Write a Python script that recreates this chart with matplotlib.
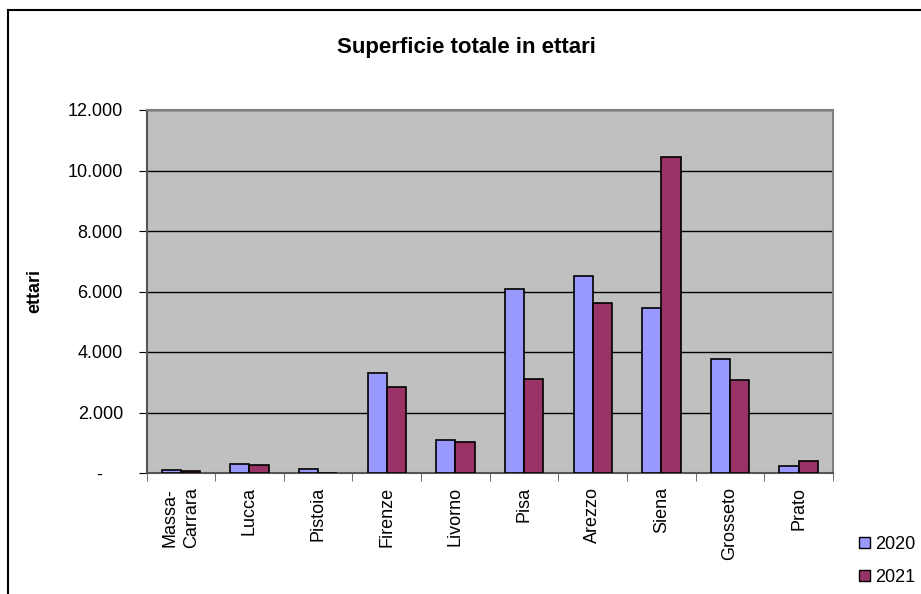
import numpy as np
import matplotlib
matplotlib.use('Agg')
import matplotlib.pyplot as plt
from matplotlib.ticker import FuncFormatter
from matplotlib.patches import Patch
from matplotlib.lines import Line2D

province = ['Massa-\nCarrara', 'Lucca', 'Pistoia', 'Firenze', 'Livorno',
            'Pisa', 'Arezzo', 'Siena', 'Grosseto', 'Prato']
ha_2020 = [110, 310, 145, 3300, 1100, 6090, 6510, 5455, 3760, 230]
ha_2021 = [55, 265, 0, 2850, 1015, 3120, 5610, 10450, 3065, 400]
series_names = ['2020', '2021']
colors = ['#9999FF', '#993366']

plt.rcParams['font.family'] = ['Liberation Sans', 'DejaVu Sans']

W, H = 921, 594
fig = plt.figure(figsize=(W / 100, H / 100), dpi=100)

# chart frame (only left and top visible)
fig.add_artist(Line2D([8 / W, 8 / W], [0, 1 - 10 / H], color='black', lw=1.5, transform=fig.transFigure))
fig.add_artist(Line2D([8 / W, 1], [1 - 10 / H, 1 - 10 / H], color='black', lw=1.5, transform=fig.transFigure))

left, right, top, bottom = 146.5, 833, 110, 473
ax = fig.add_axes([left / W, (H - bottom) / H, (right - left) / W, (bottom - top) / H])
ax.set_facecolor('#C0C0C0')

x = np.arange(len(province))
bw = 0.28
ax.bar(x - bw / 2, ha_2020, bw, color=colors[0], edgecolor='black', linewidth=1.2, zorder=3)
ax.bar(x + bw / 2, ha_2021, bw, color=colors[1], edgecolor='black', linewidth=1.2, zorder=3)

ax.set_xlim(-0.5, len(province) - 0.5)
ax.set_ylim(0, 12000)
ax.set_yticks(np.arange(0, 12001, 2000))
ax.yaxis.set_major_formatter(FuncFormatter(lambda v, p: '-    ' if v == 0 else f'{int(v):,}'.replace(',', '.')))
ax.grid(axis='y', color='black', linewidth=1, zorder=1)
ax.set_axisbelow(True)

ax.set_xticks(x)
ax.set_xticklabels(province, rotation=90, fontsize=13, linespacing=1.35)
ax.set_xticks(np.arange(-0.5, len(province), 1), minor=True)
ax.tick_params(axis='x', which='major', length=0, pad=10)
ax.tick_params(axis='x', which='minor', length=6, color='#555555', direction='out')
ax.tick_params(axis='y', labelsize=13, length=6, color='black', pad=11)

for s in ['top', 'right']:
    ax.spines[s].set_color('#808080')
    ax.spines[s].set_linewidth(1.5)
ax.spines['left'].set_color('#555555')
ax.spines['bottom'].set_color('#555555')
ax.spines['left'].set_linewidth(1.5)
ax.spines['bottom'].set_linewidth(1.5)

fig.text(35 / W, 1 - 291 / H, 'ettari', rotation=90, ha='center', va='center',
         fontsize=13, fontweight='bold')
fig.text(466 / W, 1 - 47 / H, 'Superficie totale in ettari', ha='center', va='center',
         fontsize=16, fontweight='bold')

handles = [Patch(facecolor=c, edgecolor='black', linewidth=1) for c in colors]
fig.legend(handles, series_names, loc='center left', bbox_to_anchor=(843 / W, 1 - 561 / H),
           frameon=False, fontsize=13, handlelength=0.6, handleheight=0.6, handletextpad=0.3,
           labelspacing=0.9)

fig.savefig('out.png', dpi=100)
